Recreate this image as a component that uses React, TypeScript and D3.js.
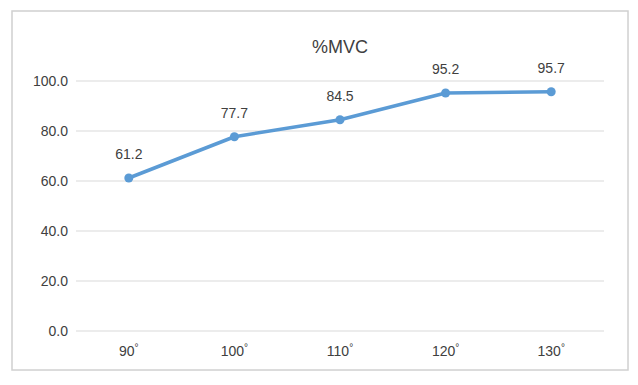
import { FC, useEffect, useRef } from 'react';
import * as d3 from 'd3';

const categories = ['90°', '100°', '110°', '120°', '130°'];
const values = [61.2, 77.7, 84.5, 95.2, 95.7];
const yTicks = [0, 20, 40, 60, 80, 100];
const title = '%MVC';

const App: FC = () => {
  const svgRef = useRef<SVGSVGElement | null>(null);
  const width = 638;
  const height = 385;
  const margin = { top: 81, right: 34, bottom: 54, left: 76 };

  useEffect(() => {
    if (!svgRef.current) return;
    const svg = d3.select(svgRef.current);
    svg.selectAll('*').remove();

    const font = 'Liberation Sans, Arial, sans-serif';

    // chart frame
    svg.append('rect')
      .attr('x', 12)
      .attr('y', 11)
      .attr('width', 616)
      .attr('height', 359)
      .attr('fill', '#fff')
      .attr('stroke', '#d0d0d0')
      .attr('stroke-width', 1.5);

    const x = d3.scaleBand()
      .domain(categories)
      .range([margin.left, width - margin.right]);

    const y = d3.scaleLinear()
      .domain([0, 100])
      .range([height - margin.bottom, margin.top]);

    // gridlines
    svg.append('g')
      .selectAll('line')
      .data(yTicks)
      .enter()
      .append('line')
      .attr('x1', margin.left)
      .attr('x2', width - margin.right)
      .attr('y1', d => y(d))
      .attr('y2', d => y(d))
      .attr('stroke', '#d9d9d9')
      .attr('stroke-width', 1);

    // y labels
    svg.append('g')
      .selectAll('text')
      .data(yTicks)
      .enter()
      .append('text')
      .attr('x', margin.left - 8)
      .attr('y', d => y(d))
      .attr('dy', '0.35em')
      .attr('text-anchor', 'end')
      .attr('font-family', font)
      .attr('font-size', 14)
      .attr('fill', '#404040')
      .text(d => d.toFixed(1));

    // x labels, with the degree mark raised
    const xl = svg.append('g')
      .selectAll('text')
      .data(categories)
      .enter()
      .append('text')
      .attr('x', d => (x(d) as number) + x.bandwidth() / 2)
      .attr('y', height - margin.bottom + 25)
      .attr('text-anchor', 'middle')
      .attr('font-family', font)
      .attr('font-size', 14)
      .attr('fill', '#404040');
    xl.append('tspan').text(d => d.replace('°', ''));
    xl.append('tspan')
      .attr('font-size', 10)
      .attr('dy', -5)
      .text('°');

    // title
    svg.append('text')
      .attr('x', 340)
      .attr('y', 53)
      .attr('text-anchor', 'middle')
      .attr('font-family', font)
      .attr('font-size', 18)
      .attr('fill', '#404040')
      .text(title);

    const pts = categories.map((c, i) => [(x(c) as number) + x.bandwidth() / 2, y(values[i])] as [number, number]);

    const line = d3.line();
    svg.append('path')
      .attr('d', line(pts))
      .attr('fill', 'none')
      .attr('stroke', '#5b9bd5')
      .attr('stroke-width', 3.5)
      .attr('stroke-linejoin', 'round');

    svg.append('g')
      .selectAll('circle')
      .data(pts)
      .enter()
      .append('circle')
      .attr('cx', d => d[0])
      .attr('cy', d => d[1])
      .attr('r', 4.5)
      .attr('fill', '#5b9bd5');

    // data labels
    svg.append('g')
      .selectAll('text')
      .data(pts)
      .enter()
      .append('text')
      .attr('x', d => d[0])
      .attr('y', d => d[1] - 19)
      .attr('text-anchor', 'middle')
      .attr('font-family', font)
      .attr('font-size', 14)
      .attr('fill', '#404040')
      .text((d, i) => values[i].toFixed(1));
  }, []);

  return (
    <svg
      ref={svgRef}
      width={width}
      height={height}
      style={{ position: 'absolute', left: 0, top: 0 }}
    />
  );
};

export default App;
